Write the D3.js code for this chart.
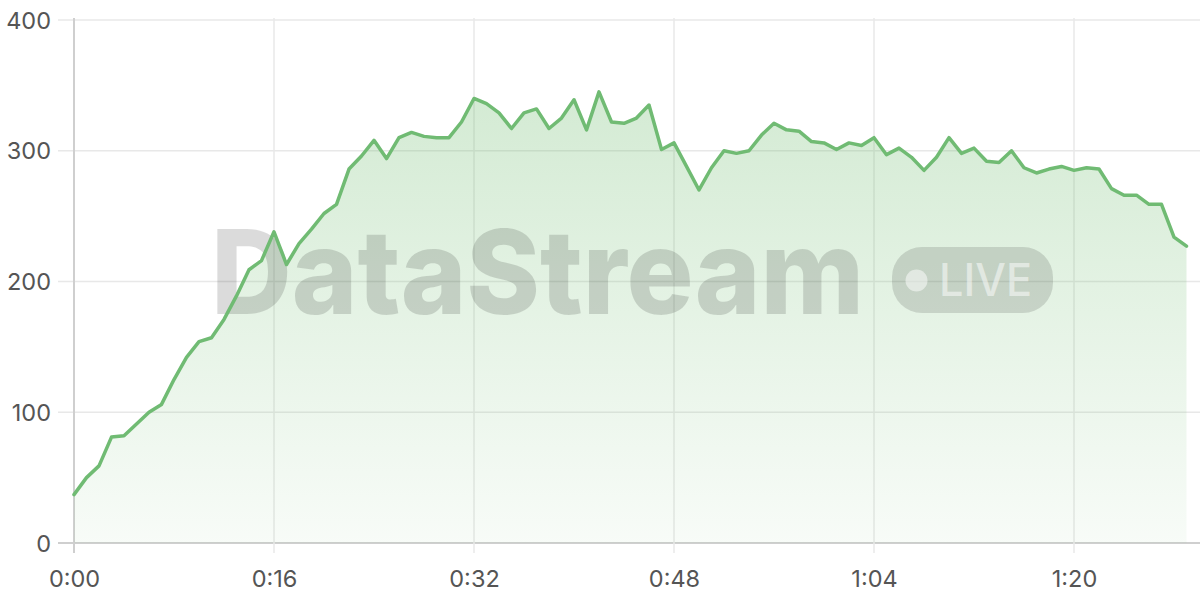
<!DOCTYPE html>
<html>
<head>
<meta charset="utf-8">
<script src="https://cdn.jsdelivr.net/npm/d3@7"></script>
<style>
  html, body { margin: 0; padding: 0; background: #ffffff; }
  svg { display: block; }
</style>
</head>
<body>
<svg id="chart" width="1200" height="600"></svg>
<script>
// ---- data (seconds elapsed, value) ----
const seconds = d3.range(0, 90);
const values = [
  37, 50, 59, 81, 82, 91, 100, 106, 125, 142,
  154, 157, 171, 189, 209, 216, 238, 213, 229, 240,
  252, 259, 286, 296, 308, 294, 310, 314, 311, 310,
  310, 322, 340, 336, 329, 317, 329, 332, 317, 325,
  339, 316, 345, 322, 321, 325, 335, 301, 306, 288,
  270, 287, 300, 298, 300, 312, 321, 316, 315, 307,
  306, 301, 306, 304, 310, 297, 302, 295, 285, 295,
  310, 298, 302, 292, 291, 300, 287, 283, 286, 288,
  285, 287, 286, 271, 266, 266, 259, 259, 234, 227
];
const yTicks = [0, 100, 200, 300, 400];
const xTicks = [0, 16, 32, 48, 64, 80];
const watermarkText = "DataStream";
const badgeText = "LIVE";

const data = seconds.map((s, i) => ({ s, v: values[i] }));

const svg = d3.select("#chart");
const x = d3.scaleLinear().domain([0, 89]).range([74, 1186.5]);
const y = d3.scaleLinear().domain([0, 400]).range([543, 20]);

const fmt = s => Math.floor(s / 60) + ":" + String(s % 60).padStart(2, "0");

// gradient
const defs = svg.append("defs");
const grad = defs.append("linearGradient")
  .attr("id", "areaGrad").attr("gradientUnits", "userSpaceOnUse")
  .attr("x1", 0).attr("y1", y(400)).attr("x2", 0).attr("y2", y(0));
grad.append("stop").attr("offset", "0%").attr("stop-color", "#6dbb6d").attr("stop-opacity", 0.34);
grad.append("stop").attr("offset", "100%").attr("stop-color", "#6dbb6d").attr("stop-opacity", 0.05);

// horizontal grid
svg.append("g").selectAll("line").data(yTicks).join("line")
  .attr("x1", 58).attr("x2", 1200)
  .attr("y1", d => y(d)).attr("y2", d => y(d))
  .attr("stroke", d => d === 0 ? "#cfcfcf" : "#e8e8e8")
  .attr("stroke-width", d => d === 0 ? 2 : 1.5);

// vertical grid
svg.append("g").selectAll("line").data(xTicks).join("line")
  .attr("x1", d => x(d)).attr("x2", d => x(d))
  .attr("y1", 18).attr("y2", 553)
  .attr("stroke", d => d === 0 ? "#cfcfcf" : "#e8e8e8")
  .attr("stroke-width", d => d === 0 ? 2 : 1.5);

// area
const area = d3.area().x(d => x(d.s)).y0(y(0)).y1(d => y(d.v));
svg.append("path").datum(data).attr("d", area).attr("fill", "url(#areaGrad)");

// watermark
const wm = svg.append("g");
wm.append("text")
  .attr("x", 211).attr("y", 314)
  .attr("textLength", 653).attr("lengthAdjust", "spacingAndGlyphs")
  .attr("font-family", "Inter, 'DejaVu Sans', sans-serif")
  .attr("font-weight", 800).attr("font-size", 117)
  .attr("fill", "rgba(0,0,0,0.14)")
  .text(watermarkText);
wm.append("rect")
  .attr("x", 892).attr("y", 247).attr("width", 161).attr("height", 66)
  .attr("rx", 30).attr("fill", "rgba(0,0,0,0.13)");
wm.append("circle").attr("cx", 916.5).attr("cy", 280.5).attr("r", 11)
  .attr("fill", "rgba(255,255,255,0.5)");
wm.append("text")
  .attr("x", 939).attr("y", 296)
  .attr("textLength", 93).attr("lengthAdjust", "spacingAndGlyphs")
  .attr("font-family", "Inter, 'DejaVu Sans', sans-serif")
  .attr("font-weight", 500).attr("font-size", 45)
  .attr("fill", "rgba(255,255,255,0.5)")
  .text(badgeText);

// line
const line = d3.line().x(d => x(d.s)).y(d => y(d.v));
svg.append("path").datum(data).attr("d", line)
  .attr("fill", "none").attr("stroke", "#70bb73").attr("stroke-width", 3.5)
  .attr("stroke-linejoin", "round").attr("stroke-linecap", "round");

// y labels
const yAxis = d3.axisLeft(y).tickValues(yTicks).tickSize(0).tickPadding(0);
const gy = svg.append("g").attr("transform", "translate(51,0)").call(yAxis);
gy.select(".domain").remove();
gy.selectAll("text")
  .attr("font-family", "Inter, sans-serif").attr("font-size", 23.5)
  .attr("fill", "#555").attr("dy", "0.35em");

// x labels
const xAxis = d3.axisBottom(x).tickValues(xTicks).tickFormat(fmt).tickSize(0).tickPadding(0);
const gx = svg.append("g").attr("transform", "translate(0,570)").call(xAxis);
gx.select(".domain").remove();
gx.selectAll("text")
  .attr("font-family", "Inter, sans-serif").attr("font-size", 23.5)
  .attr("fill", "#555").attr("dy", "0.71em");
</script>
</body>
</html>
